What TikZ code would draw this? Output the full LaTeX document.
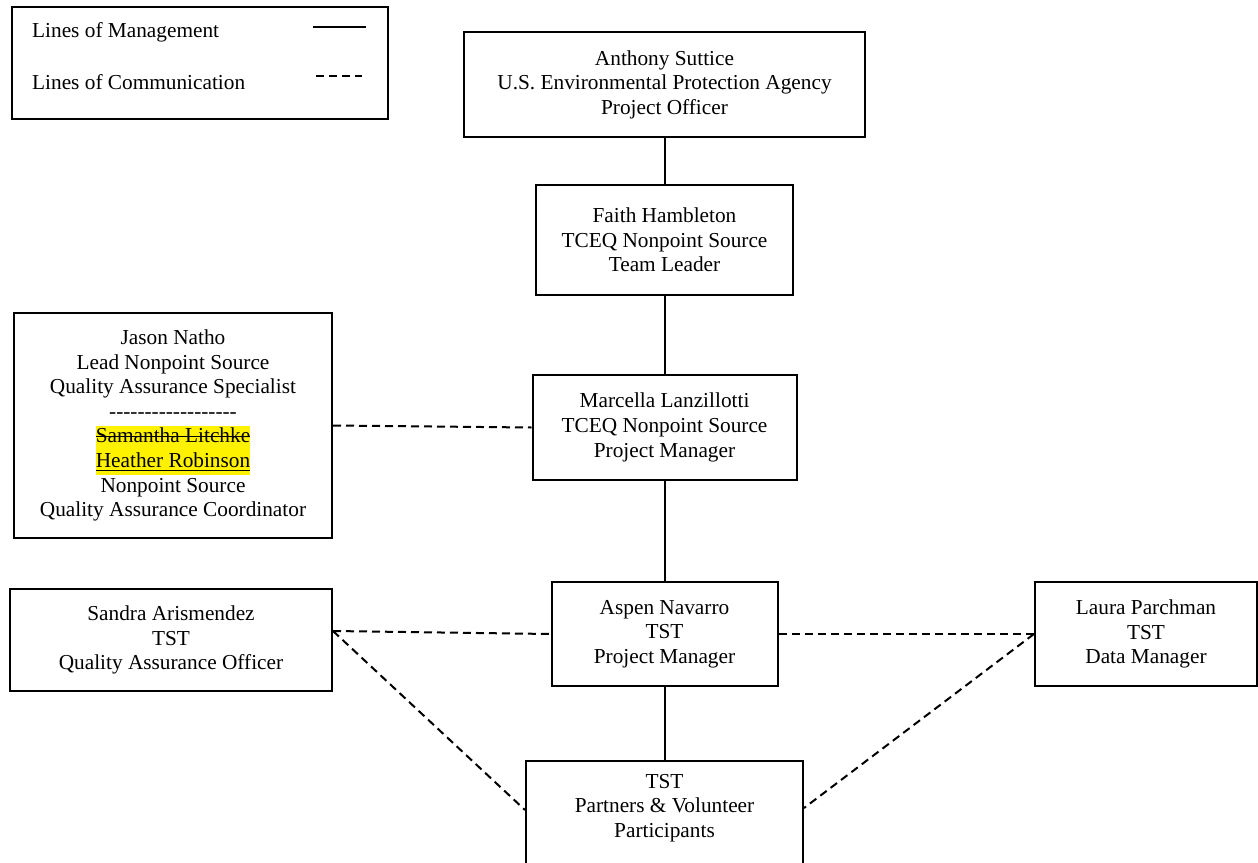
\documentclass[tikz,border=0pt]{standalone}
\usepackage{fontspec}
\setmainfont{Liberation Serif}
\usepackage{xcolor}
\def\hh{\mbox{-}}
\newsavebox\mytmpbox
\newcommand\mystrike[1]{\sbox\mytmpbox{#1}\rlap{\rule[0.27em]{\wd\mytmpbox}{1.2pt}}\usebox\mytmpbox}
\newcommand\myunder[1]{\sbox\mytmpbox{#1}\rlap{\rule[-0.17em]{\wd\mytmpbox}{1.3pt}}\usebox\mytmpbox}
\newcommand\hlbox[1]{{\fboxsep=0pt\colorbox{yellow}{\strut#1}}}
\tikzset{
  box/.style={draw=black, line width=2pt, fill=white, inner sep=0pt, align=center,
    font=\fontsize{21.3}{24.6}\selectfont},
  txt/.style={inner sep=0pt, align=center, font=\fontsize{21.3}{24.6}\selectfont},
  mgmt/.style={draw=black, line width=2pt},
  comm/.style={draw=black, line width=2pt, dash pattern=on 8pt off 5pt},
}
\begin{document}
\begin{tikzpicture}[x=1pt,y=-1pt]
\useasboundingbox (0,0) rectangle (1258,862);
\clip (0,0) rectangle (1258,862);
\fill[white] (0,0) rectangle (1258,862);
% legend
\node[box, minimum width=376, minimum height=112] (legend) at (200,63) {};
\node[txt, anchor=west] (lm) at (32,32) {Lines of Management};
\node[txt, anchor=west] (lc) at (32,82) {Lines of Communication};
\coordinate (lm1) at (313,27); \coordinate (lm2) at (366,27);
\coordinate (lc1) at (316,76); \coordinate (lc2) at (362,76);
\draw[mgmt] (lm1) -- (lm2);
\draw[comm] (lc1) -- (lc2);
% boxes
\node[box, minimum width=401, minimum height=105] (anthony) at (664.5,84.5)
  {Anthony Suttice\\U.S. Environmental Protection Agency\\Project Officer};
\node[box, minimum width=257, minimum height=110] (faith) at (664.5,240)
  {Faith Hambleton\\TCEQ Nonpoint Source\\Team Leader};
\node[box, minimum width=318, minimum height=225] (jason) at (173,425.5)
  {Jason Natho\\Lead Nonpoint Source\\Quality Assurance Specialist\\
   \hh\hh\hh\hh\hh\hh\hh\hh\hh\hh\hh\hh\hh\hh\hh\hh\hh\hh\\
   \hlbox{\mystrike{Samantha Litchke}}\\\hlbox{\myunder{Heather Robinson}}\\
   Nonpoint Source\\Quality Assurance Coordinator};
\node[box, minimum width=264, minimum height=105] (marcella) at (664.5,427.5)
  {Marcella Lanzillotti\\TCEQ Nonpoint Source\\Project Manager};
\node[box, minimum width=322, minimum height=102] (sandra) at (171,640)
  {Sandra Arismendez\\TST\\Quality Assurance Officer};
\node[box, minimum width=226, minimum height=104] (aspen) at (664.5,634)
  {Aspen Navarro\\TST\\Project Manager};
\node[box, minimum width=222, minimum height=104] (laura) at (1146,634)
  {Laura Parchman\\TST\\Data Manager};
\node[box, minimum width=277, minimum height=130, anchor=north] (bot) at (664.5,760) {};
\node[txt] (bottxt) at (664.5,808) {TST\\Partners \& Volunteer\\Participants};
% management lines
\draw[mgmt] (anthony.south) -- (faith.north);
\draw[mgmt] (faith.south) -- (marcella.north);
\draw[mgmt] (marcella.south) -- (aspen.north);
\draw[mgmt] (aspen.south) -- (bot.north);
% communication lines
\draw[comm] (jason.east) -- (marcella.west);
\draw[comm] ([yshift=9pt]sandra.east) -- (aspen.west);
\draw[comm] (aspen.east) -- (laura.west);
\draw[comm] ([yshift=9pt]sandra.east) -- ([yshift=-50pt]bot.north west);
\draw[comm] (laura.west) -- ([yshift=-48pt]bot.north east);
\end{tikzpicture}
\end{document}
